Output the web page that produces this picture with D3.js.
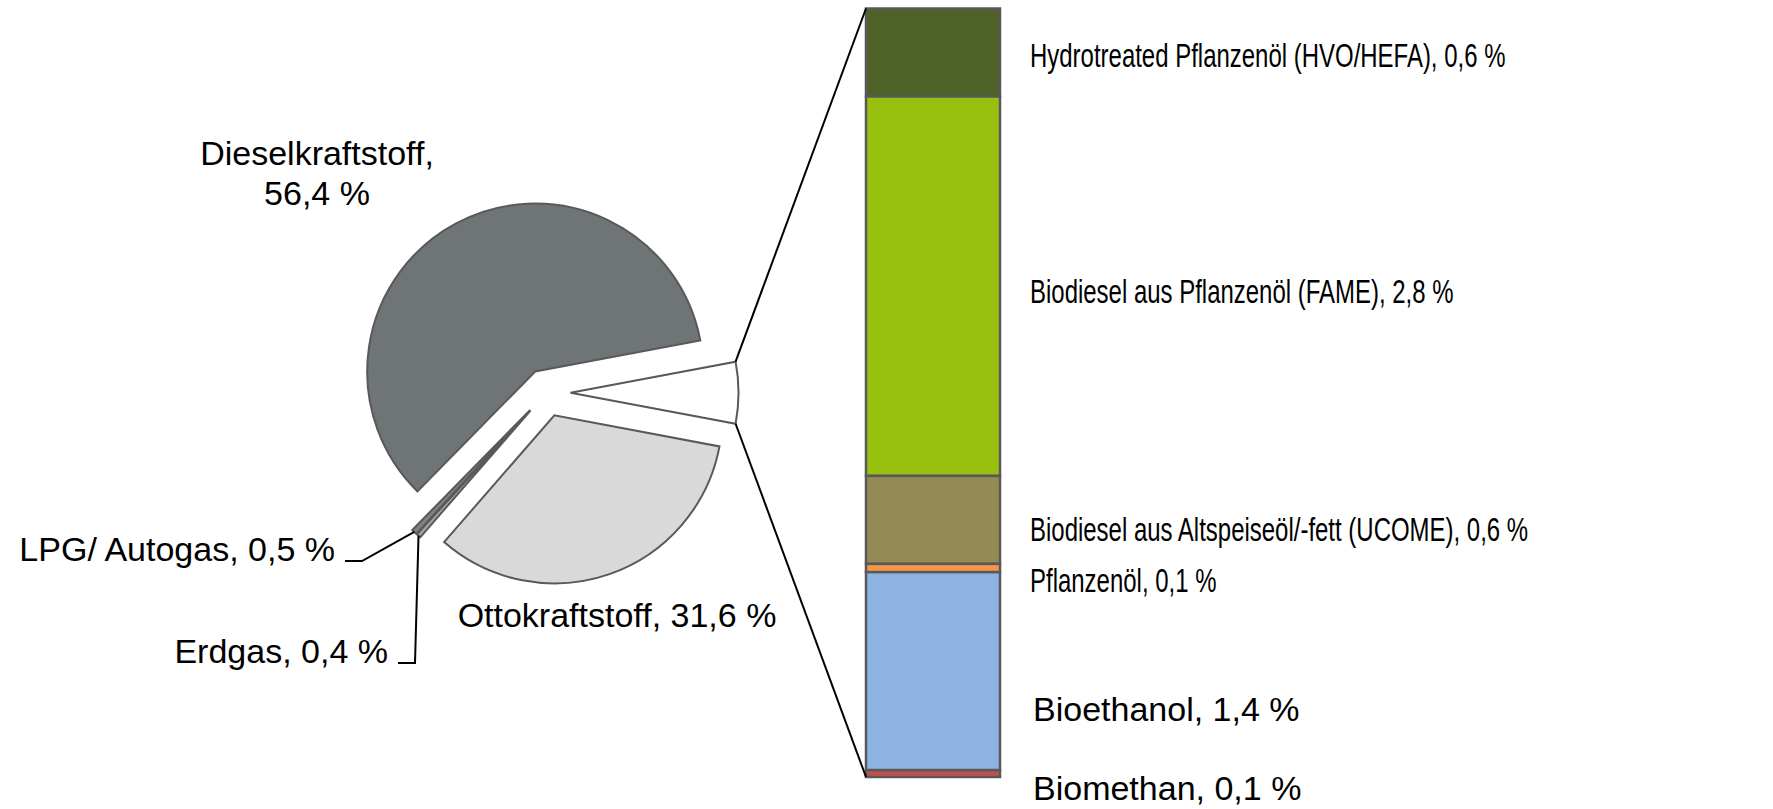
<!DOCTYPE html>
<head>
    <meta charset="utf-8">
    <title>Kraftstoffanteile</title>
    <script src="https://d3js.org/d3.v7.min.js"></script>
    <style>
        body {
            margin: 0;
            background: #fff;
        }

        svg {
            display: block;
            font-family: "Liberation Sans", Arial, sans-serif;
        }
    </style>
</head>

<body>
    <div id="chart"></div>
    <script>
        // pie slices, clockwise after the biofuel slice
        const fuelNames = ["Ottokraftstoff", "Erdgas", "LPG/ Autogas", "Dieselkraftstoff"];
        const fuelValues = [31.6, 0.4, 0.5, 56.4];
        const fuelColors = ["#d9d9d9", "#a6a6a6", "#808080", "#6f7476"];

        // bar of pie, top to bottom
        const bioNames = [
            "Hydrotreated Pflanzenöl (HVO/HEFA)",
            "Biodiesel aus Pflanzenöl (FAME)",
            "Biodiesel aus Altspeiseöl/-fett (UCOME)",
            "Pflanzenöl",
            "Bioethanol",
            "Biomethan"
        ];
        const bioValues = [0.64, 2.76, 0.64, 0.06, 1.44, 0.05];
        const bioColors = ["#4f6228", "#98c00f", "#948a54", "#f79646", "#8db3e2", "#c0504d"];

        // layout
        const width = 1773, height = 809;
        const cx = 546.5, cy = 392.7, r = 168, explode = 24;
        const barX0 = 866, barX1 = 1000, barTop = 8.5, barBottom = 777;
        const labelX = 1030;
        const labelNudge = [2, 4, 9, 11, 37, 14];
        const labelSquash = [0.705, 0.705, 0.705, 0.705, 1, 1];
        const fontSize = 34;

        const locale = d3.formatLocale({ decimal: ",", thousands: ".", grouping: [3], currency: ["", " €"] });
        const fmt = locale.format(".1f");

        const svg = d3.select("#chart").append("svg")
            .attr("width", width)
            .attr("height", height)
            .style("font-size", fontSize + "px");

        // pie
        const bioTotal = d3.sum(bioValues);
        const pieData = [{ name: "Biokraftstoffe", value: bioTotal, color: "#ffffff" }]
            .concat(fuelNames.map((n, i) => ({ name: n, value: fuelValues[i], color: fuelColors[i] })));
        const total = d3.sum(pieData, d => d.value);
        const start = Math.PI / 2 - Math.PI * bioTotal / total;

        const arcs = d3.pie()
            .sort(null)
            .value(d => d.value)
            .startAngle(start)
            .endAngle(start + 2 * Math.PI)(pieData);

        const arc = d3.arc().innerRadius(0).outerRadius(r);

        const offset = d => {
            const a = (d.startAngle + d.endAngle) / 2;
            return [Math.sin(a) * explode, -Math.cos(a) * explode];
        };
        const polar = (a, rad, d) => {
            const o = offset(d);
            return [cx + o[0] + Math.sin(a) * rad, cy + o[1] - Math.cos(a) * rad];
        };

        svg.append("g")
            .selectAll("path")
            .data(arcs)
            .join("path")
            .attr("transform", d => `translate(${cx + offset(d)[0]},${cy + offset(d)[1]})`)
            .attr("d", arc)
            .attr("fill", d => d.data.color)
            .attr("stroke", "#595959")
            .attr("stroke-width", 2)
            .attr("stroke-linejoin", "miter");

        const byName = name => arcs.find(d => d.data.name === name);
        const pct = d => `${fmt(d.data.value)} %`;

        // pie labels
        const diesel = byName("Dieselkraftstoff");
        const dl = svg.append("text").attr("text-anchor", "middle");
        dl.append("tspan").attr("x", 317).attr("y", 165).text(diesel.data.name + ",");
        dl.append("tspan").attr("x", 317).attr("y", 205).text(pct(diesel));

        const otto = byName("Ottokraftstoff");
        svg.append("text")
            .attr("text-anchor", "middle")
            .attr("x", 617).attr("y", 627)
            .text(`${otto.data.name}, ${pct(otto)}`);

        const small = [
            { name: "LPG/ Autogas", x: 335, y: 561, elbowX: 362 },
            { name: "Erdgas", x: 388, y: 663, elbowX: 415 }
        ];
        small.forEach(s => {
            const d = byName(s.name);
            const tip = polar((d.startAngle + d.endAngle) / 2, r, d);
            svg.append("text")
                .attr("text-anchor", "end")
                .attr("x", s.x).attr("y", s.y)
                .text(`${s.name}, ${pct(d)}`);
            svg.append("path")
                .attr("d", d3.line()([tip, [s.elbowX, s.y], [s.x + 10, s.y]]))
                .attr("fill", "none")
                .attr("stroke", "#000")
                .attr("stroke-width", 2);
        });

        // bar
        const y = d3.scaleLinear().domain([0, bioTotal]).range([barBottom, barTop]);
        let acc = 0;
        const stack = bioValues.map((v, i) => ({ i, v })).reverse().map(d => {
            const s = { ...d, y0: acc, y1: acc + d.v };
            acc += d.v;
            return s;
        }).reverse();

        svg.append("g")
            .selectAll("rect")
            .data(stack)
            .join("rect")
            .attr("x", barX0)
            .attr("width", barX1 - barX0)
            .attr("y", d => y(d.y1))
            .attr("height", d => y(d.y0) - y(d.y1))
            .attr("fill", d => bioColors[d.i])
            .attr("stroke", "#595959")
            .attr("stroke-width", 2.5);

        svg.append("g")
            .selectAll("text")
            .data(stack)
            .join("text")
            .attr("transform", d => {
                const yc = (y(d.y0) + y(d.y1)) / 2 + 12.5 + labelNudge[d.i];
                const x = labelSquash[d.i] < 1 ? labelX : labelX + 3;
                return `translate(${x},${yc}) scale(${labelSquash[d.i]},1)`;
            })
            .text(d => `${bioNames[d.i]}, ${fmt(d.v)} %`);

        // connectors from the biofuel slice to the bar
        const bio = arcs[0];
        const upper = polar(bio.startAngle, r, bio);
        const lower = polar(bio.endAngle, r, bio);
        svg.append("path")
            .attr("d", d3.line()([upper, [barX0, y(bioTotal)]]))
            .attr("stroke", "#000").attr("stroke-width", 2);
        svg.append("path")
            .attr("d", d3.line()([lower, [barX0, y(0)]]))
            .attr("stroke", "#000").attr("stroke-width", 2);
    </script>
</body>

</html>
